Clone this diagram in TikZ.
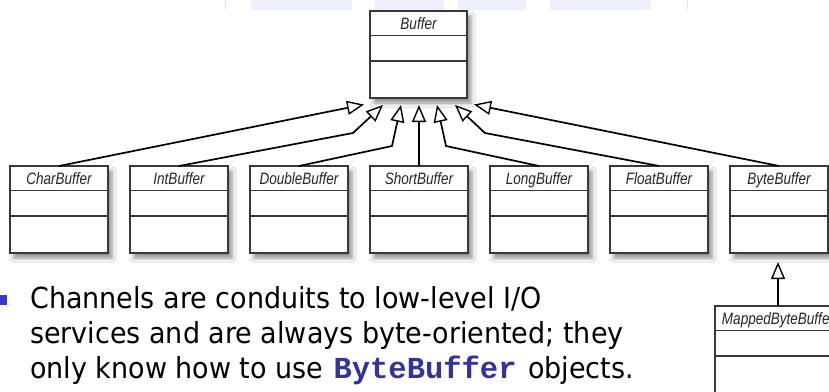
\documentclass[tikz,border=0pt]{standalone}
\usepackage{fontspec}
\setmainfont[FakeStretch=0.93]{DejaVu Sans}
\newfontfamily\classfont[FakeStretch=0.82]{Liberation Sans}
\newfontfamily\codefont{Liberation Mono}
\usetikzlibrary{arrows.meta,shadows.blur}

\definecolor{tabtint}{HTML}{EEEEFC}
\definecolor{tabrule}{HTML}{E4E4F6}
\definecolor{bulletblue}{HTML}{3939C8}
\definecolor{codeblue}{HTML}{333399}
\definecolor{boxline}{HTML}{383838}

% A UML class: box, italic name in the top compartment, two empty compartments
\newcommand\umlclass[5]{%
  \node[classbox, minimum width=#4] (#1) at (#2,#3) {};
  \node[classtitle] (#1title) at ([yshift=-18pt]#1.north) {#5};
  \draw[divider] ([yshift=-24.5pt]#1.north west) -- ([yshift=-24.5pt]#1.north east);
  \draw[divider] ([yshift=-50pt]#1.north west) -- ([yshift=-50pt]#1.north east);
}

\begin{document}
\begin{tikzpicture}[x=1pt,y=-1pt,
  classbox/.style={draw=boxline, line width=1.3pt, fill=white, minimum height=87pt,
    inner sep=0pt, outer sep=0pt, anchor=north,
    blur shadow={shadow xshift=4pt, shadow yshift=-5pt, shadow blur radius=4pt,
      shadow opacity=45}},
  classtitle/.style={anchor=base, inner sep=0pt, text=black!85,
    font=\classfont\itshape\fontsize{16.5}{18}\selectfont},
  divider/.style={draw=boxline, line width=1.1pt},
  inherit/.style={draw=black, line width=1.7pt, line join=round,
    -{Triangle[length=17pt, width=14pt, fill=white, line width=1.4pt]}},
  bodytext/.style={anchor=base west, inner sep=0pt,
    font=\fontsize{29}{35}\selectfont}
]
\useasboundingbox (0,0) rectangle (829,391);
\clip (0,0) rectangle (829,391);
\fill[white] (0,0) rectangle (829,391);

% header tabs at the top edge
\fill[tabtint] (251,0) rectangle (352,10);
\fill[tabtint] (375,0) rectangle (444,10);
\fill[tabtint] (458,0) rectangle (526,10);
\fill[tabtint] (550,0) rectangle (651,10);
\draw[tabrule, line width=1pt] (225,0) -- (225,10);
\draw[tabrule, line width=1pt] (687,0) -- (687,10);

% classes
\umlclass{buffer}{418.5}{11}{97pt}{Buffer}
\umlclass{char}{59}{166}{98pt}{CharBuffer}
\umlclass{int}{179}{166}{98pt}{IntBuffer}
\umlclass{double}{299}{166}{98pt}{DoubleBuffer}
\umlclass{short}{419}{166}{98pt}{ShortBuffer}
\umlclass{long}{539}{166}{98pt}{LongBuffer}
\umlclass{float}{659}{166}{98pt}{FloatBuffer}
\umlclass{byte}{779}{166}{98pt}{ByteBuffer}
\umlclass{mapped}{778}{306}{126pt}{MappedByteBuffer}

% arrow tips under Buffer and the bends of the routed connectors
\coordinate (tipChar)   at (364,104.5);
\coordinate (tipInt)    at (383,105);
\coordinate (tipDouble) at (401,105);
\coordinate (tipShort)  at (419,105);
\coordinate (tipLong)   at (437,105);
\coordinate (tipFloat)  at (455,105);
\coordinate (tipByte)   at (474,104.5);
\coordinate (bendInt)    at (353,133);
\coordinate (bendDouble) at (392,146);
\coordinate (bendLong)   at (446,146);
\coordinate (bendFloat)  at (485,133);

% generalisations
\draw[inherit] (char.north) -- (tipChar);
\draw[inherit] (int.north) -- (bendInt) -- (tipInt);
\draw[inherit] (double.north) -- (bendDouble) -- (tipDouble);
\draw[inherit] (short.north) -- (tipShort);
\draw[inherit] (long.north) -- (bendLong) -- (tipLong);
\draw[inherit] (float.north) -- (bendFloat) -- (tipFloat);
\draw[inherit] (byte.north) -- (tipByte);
\draw[inherit, shorten >=9pt] (mapped.north) -- (mapped.north |- byte.south);

% bullet text
\fill[bulletblue] (-3,295) rectangle (7,305);
\node[bodytext] (line1) at (30,308) {Channels are conduits to low-level I/O};
\node[bodytext] (line2) at (30,343) {services and are always byte-oriented; they};
\node[bodytext] (line3) at (30,378) {only know how to use\hspace{0.25em}%
  {\codefont\bfseries\fontsize{30.5}{35}\selectfont\color{codeblue}\hspace{0.1em}ByteBuffer\hspace{0.1em}} objects.};
\end{tikzpicture}
\end{document}
